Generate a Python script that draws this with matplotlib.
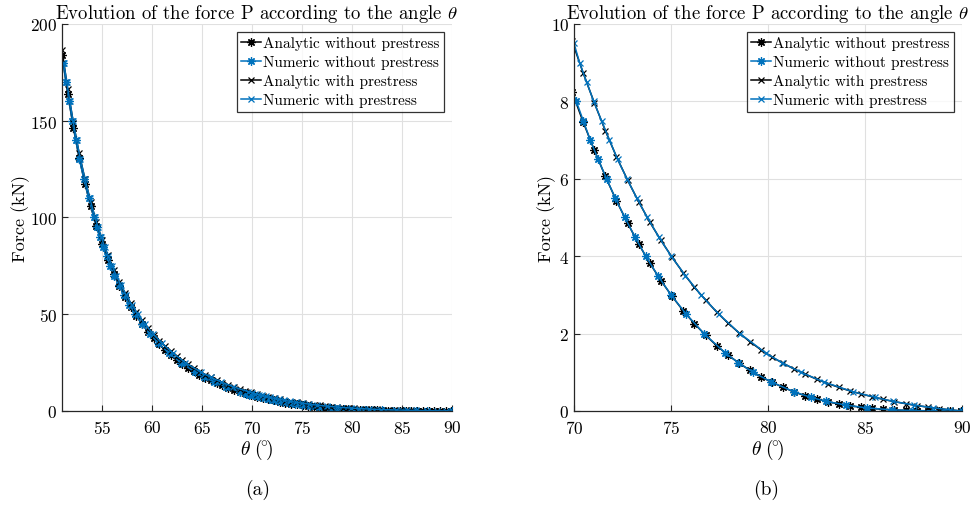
# ============================================================
# plot.py
# Force P versus angle theta, analytic and numeric solutions,
# with and without prestress. (a) full range, (b) zoom 70-90.
# ============================================================

import matplotlib
matplotlib.use("Agg")
import matplotlib.pyplot as plt

# ── Data ─────────────────────────────────────────────────────
# Analytic solutions, sampled every 0.01 rad (angles in degrees)
theta_analytic = [
    50.99, 51.57, 52.14, 52.71, 53.29, 53.86, 54.43, 55.00, 55.58, 56.15,
    56.72, 57.30, 57.87, 58.44, 59.01, 59.59, 60.16, 60.73, 61.31, 61.88,
    62.45, 63.03, 63.60, 64.17, 64.74, 65.32, 65.89, 66.46, 67.04, 67.61,
    68.18, 68.75, 69.33, 69.90, 70.47, 71.05, 71.62, 72.19, 72.77, 73.34,
    73.91, 74.48, 75.06, 75.63, 76.20, 76.78, 77.35, 77.92, 78.50, 79.07,
    79.64, 80.21, 80.79, 81.36, 81.93, 82.51, 83.08, 83.65, 84.22, 84.80,
    85.37, 85.94, 86.52, 87.09, 87.66, 88.24, 88.81, 89.38, 89.95,
]
P_analytic_nopre = [
    184.0, 163.9, 146.2, 130.8, 117.5, 105.8, 95.4, 86.3, 78.2, 71.0,
    64.6, 58.9, 53.7, 49.0, 44.8, 41.0, 37.6, 34.4, 31.6, 29.0,
    26.6, 24.4, 22.4, 20.5, 18.8, 17.2, 15.8, 14.5, 13.2, 12.0,
    10.95, 10.0, 9.1, 8.25, 7.47, 6.74, 6.06, 5.43, 4.85, 4.31,
    3.82, 3.37, 2.96, 2.59, 2.26, 1.96, 1.69, 1.45, 1.24, 1.05,
    0.88, 0.74, 0.61, 0.49, 0.39, 0.31, 0.24, 0.18, 0.135, 0.095,
    0.065, 0.042, 0.026, 0.015, 0.008, 0.004, 0.0015, 0.0003, 0.0,
]
P_analytic_pre = [
    186.4, 166.3, 148.6, 133.1, 119.8, 108.1, 97.6, 88.5, 80.4, 73.1,
    66.7, 61.0, 55.7, 51.0, 46.8, 43.0, 39.5, 36.3, 33.5, 30.8,
    28.4, 26.1, 24.1, 22.2, 20.4, 18.8, 17.4, 16.0, 14.7, 13.5,
    12.4, 11.4, 10.46, 9.56, 8.74, 7.96, 7.24, 6.57, 5.96, 5.40,
    4.88, 4.41, 3.97, 3.57, 3.20, 2.87, 2.56, 2.28, 2.02, 1.79,
    1.58, 1.39, 1.23, 1.08, 0.95, 0.82, 0.71, 0.61, 0.52, 0.44,
    0.37, 0.30, 0.24, 0.19, 0.14, 0.10, 0.06, 0.03, 0.0,
]

# Numeric solutions (load steps)
P_numeric = [
    180, 170, 160, 150, 140, 130, 120, 110, 100, 95, 90, 85, 80, 75, 70,
    65, 60, 55, 50, 45, 40, 35, 30, 25, 20, 17.5, 15, 12.5, 10,
]
theta_numeric_nopre = [
    51.10, 51.39, 51.70, 52.02, 52.37, 52.74, 53.17, 53.66, 54.18, 54.46,
    54.77, 55.09, 55.45, 55.83, 56.24, 56.68, 57.18, 57.73, 58.32, 58.98,
    59.76, 60.62, 61.66, 62.87, 64.34, 65.20, 66.24, 67.37, 68.75,
    69.40, 69.73, 70.12, 70.48, 70.84, 71.25, 71.68, 72.13, 72.62, 73.14,
    73.70, 74.32, 75.00, 75.79, 76.70, 77.80, 78.46, 79.24, 80.17, 81.32,
    82.22, 83.00, 84.03, 85.09, 86.37, 87.49, 90.0,
]
P_numeric_nopre = P_numeric + [
    9.0, 8.5, 8.0, 7.5, 7.0, 6.5, 6.0, 5.5, 5.0, 4.5, 4.0, 3.5, 3.0, 2.5,
    2.0, 1.5, 1.25, 1.0, 0.75, 0.5, 0.35, 0.25, 0.15, 0.08, 0.03, 0.01, 0.0,
]
theta_numeric_pre = [
    51.17, 51.46, 51.78, 52.09, 52.45, 52.84, 53.28, 53.77, 54.30, 54.60,
    54.91, 55.25, 55.61, 56.00, 56.42, 56.89, 57.41, 57.96, 58.58, 59.28,
    60.08, 60.99, 62.07, 63.34, 64.88, 65.85, 66.90, 68.13, 69.62,
    70.00, 70.29, 70.65, 71.02, 71.42, 71.83, 72.25, 72.73, 73.24, 73.78,
    74.37, 75.01, 75.74, 76.54, 77.47, 78.55, 79.88, 80.71, 81.70, 82.87,
    84.36, 85.54, 86.42, 87.55, 88.53, 89.38, 90.0,
]
P_numeric_pre = P_numeric + [
    9.5, 9.0, 8.5, 8.0, 7.5, 7.0, 6.5, 6.0, 5.5, 5.0, 4.5, 4.0, 3.5, 3.0,
    2.5, 2.0, 1.5, 1.25, 1.0, 0.75, 0.5, 0.35, 0.25, 0.15, 0.08, 0.03, 0.0,
]

legend_labels = [
    "Analytic without prestress",
    "Numeric without prestress",
    "Analytic with prestress",
    "Numeric with prestress",
]
title = r"Evolution of the force P according to the angle $\theta$"

# ── Style ────────────────────────────────────────────────────
plt.rcParams["font.family"] = "serif"
plt.rcParams["font.serif"] = ["cmr10", "DejaVu Serif"]
plt.rcParams["mathtext.fontset"] = "cm"
plt.rcParams["axes.formatter.use_mathtext"] = True

BLUE = "#0072BD"
BLACK = "#000000"
ASTER = (8, 2, 0)

fig = plt.figure(figsize=(9.73, 5.10), dpi=100)
fig.patch.set_facecolor("white")

ax1 = fig.add_axes([0.0637, 0.1922, 0.4008, 0.7588])
ax2 = fig.add_axes([0.5899, 0.1922, 0.3988, 0.7588])


def draw_panel(ax, ylabel_x):
    ax.plot(theta_analytic, P_analytic_nopre, color=BLACK, lw=1.1,
            marker=ASTER, ms=6, mew=0.9, label=legend_labels[0])
    ax.plot(theta_numeric_nopre, P_numeric_nopre, color=BLUE, lw=1.1,
            marker=ASTER, ms=6, mew=0.9, label=legend_labels[1])
    ax.plot(theta_analytic, P_analytic_pre, color=BLACK, lw=1.1,
            marker="x", ms=5, mew=0.9, label=legend_labels[2])
    ax.plot(theta_numeric_pre, P_numeric_pre, color=BLUE, lw=1.1,
            marker="x", ms=5, mew=0.9, label=legend_labels[3])

    ax.grid(True, color="#e0e0e0", lw=0.8)
    ax.set_axisbelow(True)
    for side in ["top", "right"]:
        ax.spines[side].set_visible(False)
    for side in ["left", "bottom"]:
        ax.spines[side].set_color("#262626")
        ax.spines[side].set_linewidth(0.9)
    ax.tick_params(direction="in", length=4, width=0.8, colors="#262626",
                   labelsize=12.5, labelcolor="black")
    ax.tick_params(axis="x", pad=6)
    ax.set_xlabel(r"$\theta\ (\!^{\circ}\!)$", fontsize=14)
    ax.set_ylabel("Force (kN)", fontsize=13)
    ax.xaxis.set_label_coords(0.5, -0.066)
    ax.yaxis.set_label_coords(ylabel_x, 0.5)
    ax.set_title(title, fontsize=13.5, pad=3)
    leg = ax.legend(loc="upper right", fontsize=11, frameon=True,
                    fancybox=False, edgecolor="black", handlelength=1.3,
                    handletextpad=0.15, borderpad=0.3, labelspacing=0.33,
                    borderaxespad=0.5)
    leg.get_frame().set_linewidth(0.9)


# ── Panel (a): full range ────────────────────────────────────
draw_panel(ax1, -0.082)
ax1.set_xlim(50.99, 90)
ax1.set_ylim(0, 200)
ax1.set_xticks([55, 60, 65, 70, 75, 80, 85, 90])
ax1.set_yticks([0, 50, 100, 150, 200])

# ── Panel (b): zoom 70-90 ────────────────────────────────────
draw_panel(ax2, -0.046)
ax2.set_xlim(70, 90)
ax2.set_ylim(0, 10)
ax2.set_xticks([70, 75, 80, 85, 90])
ax2.set_yticks([0, 2, 4, 6, 8, 10])

# ── Sub-captions ─────────────────────────────────────────────
fig.text(0.265, 0.04, "(a)", ha="center", va="center", fontsize=14)
fig.text(0.787, 0.04, "(b)", ha="center", va="center", fontsize=14)

plt.savefig("out.png", dpi=100, facecolor="white")
plt.close()
